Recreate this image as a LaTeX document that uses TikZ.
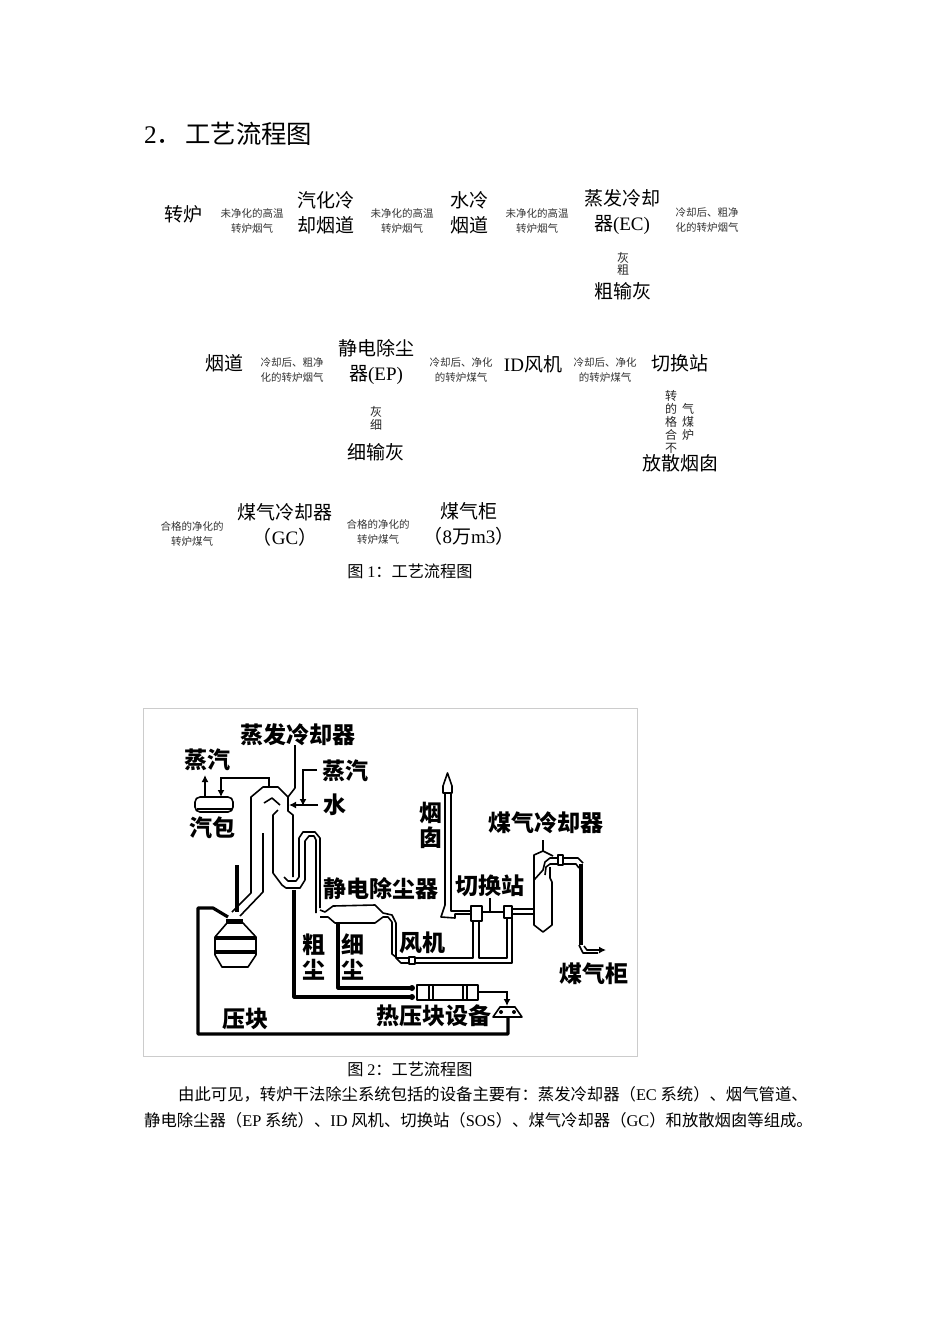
\documentclass[tikz,border=0pt]{standalone}
\usepackage{fontspec}
\setmainfont{Noto Sans CJK SC}
\newfontfamily\latf{Liberation Serif}
\newcommand{\ltxt}[1]{{\latf #1}}
\usetikzlibrary{arrows.meta}

\begin{document}
\begin{tikzpicture}[x=1pt, y=-1pt,
  every node/.style = {inner sep=0pt, align=center},
  bigtext/.style = {font=\fontsize{19}{25}\selectfont},
  smalltext/.style = {font=\fontsize{10.5}{14.5}\selectfont, text=black!80},
  tinystack/.style = {font=\fontsize{12}{12.8}\selectfont, text=black!85},
  captext/.style = {font=\fontsize{16.2}{18}\selectfont},
  bodytext/.style = {font=\fontsize{16.35}{18}\selectfont, anchor=west},
  figlabel/.style = {font=\fontsize{23}{25}\bfseries\selectfont},
  pipe/.style = {line width=1.6pt, line join=round},
  heavypipe/.style = {line width=3.2pt, line join=round},
  ptr/.style = {line width=1.6pt, -{Latex[length=7pt,width=7pt]}}]
  \useasboundingbox (0,0) rectangle (950,1344);
  \node[anchor=west, font=\fontsize{25.4}{28}\selectfont] (title) at (144,134) {\ltxt{2}．\hspace{3pt}工艺流程图};

  \node[bigtext] (converter) at (183,214) {转炉};
  \node[smalltext] (gasa) at (252,221) {未净化的高温\\转炉烟气};
  \node[bigtext] (skirt) at (326,213) {汽化冷\\却烟道};
  \node[smalltext] (gasb) at (402,221) {未净化的高温\\转炉烟气};
  \node[bigtext] (waterflue) at (469,213) {水冷\\烟道};
  \node[smalltext] (gasc) at (537,221) {未净化的高温\\转炉烟气};
  \node[bigtext] (evap) at (622,212) {蒸发冷却\\器\ltxt{(EC)}};
  \node[smalltext] (gasd) at (707,220) {冷却后、粗净\\化的转炉烟气};
  \node[tinystack] (coarse) at (623,264) {灰\\粗};
  \node[bigtext] (coarseash) at (623,291) {粗输灰};

  \node[bigtext] (flue) at (224,363) {烟道};
  \node[smalltext] (gase) at (292,370) {冷却后、粗净\\化的转炉烟气};
  \node[bigtext] (esp) at (376,362) {静电除尘\\器\ltxt{(EP)}};
  \node[smalltext] (gasf) at (461,370) {冷却后、净化\\的转炉煤气};
  \node[bigtext] (fan) at (533,364) {\ltxt{ID}风机};
  \node[smalltext] (gasg) at (605,370) {冷却后、净化\\的转炉煤气};
  \node[bigtext] (switch) at (680,363) {切换站};
  \node[tinystack] (fine) at (376,418) {灰\\细};
  \node[bigtext] (fineash) at (376,452) {细输灰};
  \node[tinystack] (reject) at (671,422) {转\\的\\格\\合\\不};
  \node[tinystack] (rejectb) at (688,422) {气\\煤\\炉};
  \node[bigtext] (stack) at (680,463) {放散烟囱};

  \node[smalltext] (gash) at (192,534) {合格的净化的\\转炉煤气};
  \node[bigtext] (cooler) at (285,525) {煤气冷却器\\（\ltxt{GC}）};
  \node[smalltext] (gasi) at (378,532) {合格的净化的\\转炉煤气};
  \node[bigtext] (holder) at (469,524) {煤气柜\\（\ltxt{8}万\ltxt{m3}）};
  \node[captext] (capa) at (410,571) {图 \ltxt{1}：工艺流程图};

  \draw[black!20, line width=0.8pt] (143.5,708.5) rectangle (637.5,1056.5);

  \node[figlabel] (levap) at (298,735) {蒸发冷却器};
  \node[figlabel] (lsteama) at (207,760) {蒸汽};
  \node[figlabel] (ldrum) at (212,828) {汽包};
  \node[figlabel] (lsteamb) at (345,771) {蒸汽};
  \node[figlabel] (lwater) at (335,805) {水};
  \node[figlabel] (lstack) at (431,825) {烟\\囱};
  \node[figlabel] (lcooler) at (546,823) {煤气冷却器};
  \node[figlabel] (lesp) at (381,889) {静电除尘器};
  \node[figlabel] (lswitch) at (490,886) {切换站};
  \node[figlabel] (lfan) at (422,943) {风机};
  \node[figlabel] (lcoarse) at (314,957) {粗\\尘};
  \node[figlabel] (lfine) at (353,957) {细\\尘};
  \node[figlabel] (lblock) at (245,1019) {压块};
  \node[figlabel] (lpress) at (434,1016) {热压块设备};
  \node[figlabel] (lholder) at (594,974) {煤气柜};

  \draw[pipe, rounded corners=5pt] (195,797) rectangle (233,812);
  \draw[pipe] (197,809) -- (232,809);
  \draw[ptr] (205,797) -- (205,775);
  \draw[ptr] (269,788) -- (269,778) -- (221,778) -- (221,797);
  \draw[pipe] (295,745) -- (295,788) -- (288,797);
  \draw[ptr] (317,770) -- (303,770) -- (303,806);
  \draw[ptr] (318,805) -- (289,805);

  \draw[pipe] (232,912) -- (251,893) -- (251,797) -- (263,787) -- (278,787) -- (288,797)
    -- (288,811) -- (293,815) -- (293,877);
  \draw[pipe] (263,833) -- (263,892) -- (240,916);
  \draw[pipe] (264,803) -- (272,798) -- (280,805);
  \draw[pipe] (278,810) -- (273,815) -- (273,873) -- (282,885) -- (286,888) -- (300,888)
    -- (305,880) -- (305,841) -- (309,836) -- (314,836) -- (316,840) -- (316,913);
  \draw[pipe] (284,877) -- (288,881) -- (296,881) -- (299,877) -- (299,838) -- (303,832)
    -- (315,832) -- (320,838) -- (320,908);
  \draw[heavypipe] (237,865) -- (237,912);
  \draw[heavypipe] (294,890) -- (294,997) -- (412,997);
  \draw[heavypipe] (338,923) -- (338,988) -- (412,988);
  \draw[heavypipe] (228,917) -- (213,908) -- (198,908) -- (198,1034) -- (508,1034) -- (508,1013);
  \draw[heavypipe] (226,921) -- (243,921);

  \draw[pipe, fill=white] (215,937) -- (227,923) -- (243,923) -- (256,937) -- (256,955)
    -- (248,967) -- (222,967) -- (215,955) -- cycle;
  \draw[heavypipe] (215,938) -- (256,938);
  \draw[heavypipe] (215,952) -- (256,952);

  \draw[pipe] (320,910) -- (325,912) -- (333,906) -- (375,905) -- (383,913) -- (392,915)
    -- (396,923) -- (396,958) -- (401,963) -- (512,963) -- (512,918);
  \draw[pipe] (320,917) -- (328,917) -- (335,923) -- (375,923) -- (383,917) -- (388,917)
    -- (392,922) -- (392,954) -- (397,958) -- (473,958) -- (473,921);
  \draw[pipe] (479,921) -- (479,958) -- (507,958) -- (507,918);
  \draw[pipe, fill=white] (409,957) rectangle (415,964);

  \draw[pipe] (445,793) -- (445,905) -- (441,917) -- (455,918) -- (455,914) -- (471,914);
  \draw[pipe] (451,793) -- (451,911) -- (471,911);
  \draw[pipe, fill=white] (447.5,773) -- (443,786) -- (443,793) -- (452,793) -- (452,786) -- cycle;
  \draw[pipe, fill=white] (471,906) rectangle (482,921);
  \draw[pipe, fill=white] (504,906) rectangle (512,918);
  \draw[pipe] (482,912) -- (504,912);
  \draw[pipe] (490,898) -- (490,912);
  \draw[pipe] (512,909) -- (534,909);
  \draw[pipe] (512,914) -- (534,914);

  \draw[pipe] (543,840) -- (543,851);
  \draw[pipe] (534,880) -- (534,855) -- (543,851) -- (553,856);
  \draw[pipe] (534,880) -- (534,925) -- (543,932) -- (552,925) -- (552,882) -- (550,878) -- (550,867);
  \draw[pipe] (534,880) -- (543,870) -- (545,862) -- (550,858) -- (578,858) -- (583,863);
  \draw[pipe] (545,875) -- (546,867) -- (550,864) -- (576,864) -- (579,868);
  \draw[heavypipe] (581,864) -- (581,945);
  \draw[pipe] (579,945) -- (583,953) -- (598,953);
  \draw[ptr] (584,946) -- (587,950) -- (606,950);
  \draw[pipe, fill=white] (558,855) rectangle (563,865);

  \draw[pipe, fill=white] (417,985) rectangle (478,1000);
  \draw[pipe] (429,985) -- (429,1000) (433,985) -- (433,1000);
  \draw[pipe] (463,985) -- (463,1000) (467,985) -- (467,1000);
  \fill (412,988) circle (3pt) (412,997) circle (3pt);
  \draw[ptr] (478,992) -- (507,992) -- (507,1006);
  \draw[pipe, fill=white] (493,1017) -- (500,1007) -- (515,1007) -- (522,1017) -- cycle;
  \fill (501,1012) circle (2pt) (514,1012) circle (2pt);

  \node[captext] (capb) at (410,1069) {图 \ltxt{2}：工艺流程图};
  \node[bodytext] (bodya) at (178,1094) {由此可见，转炉干法除尘系统包括的设备主要有：蒸发冷却器（\ltxt{EC} 系统）、烟气管道、};
  \node[bodytext] (bodyb) at (144,1120) {静电除尘器（\ltxt{EP} 系统）、\ltxt{ID} 风机、切换站（\ltxt{SOS}）、煤气冷却器（\ltxt{GC}）和放散烟囱等组成。};
\end{tikzpicture}
\end{document}
